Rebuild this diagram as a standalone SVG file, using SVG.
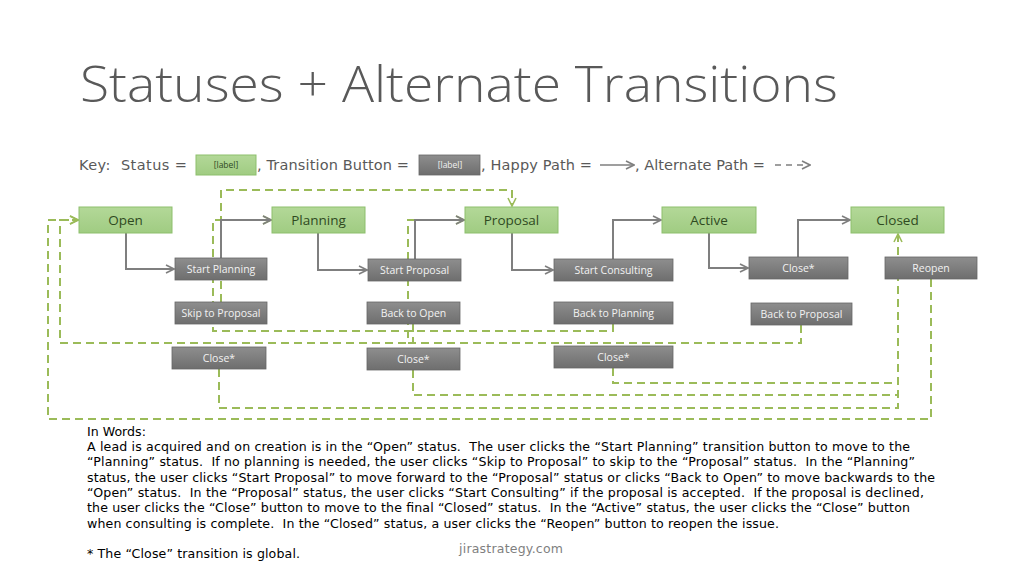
<svg xmlns="http://www.w3.org/2000/svg" width="1024" height="576" viewBox="0 0 1024 576" xml:space="preserve">
<defs>
<linearGradient id="gGreen" x1="0" y1="0" x2="0" y2="1"><stop offset="0" stop-color="#B3D898"/><stop offset="1" stop-color="#A0CC82"/></linearGradient>
<linearGradient id="gGray" x1="0" y1="0" x2="0" y2="1"><stop offset="0" stop-color="#8E8E8E"/><stop offset="1" stop-color="#6E6E6E"/></linearGradient>
<marker id="ag" viewBox="0 0 10 10" refX="9" refY="5" markerWidth="10" markerHeight="10" markerUnits="userSpaceOnUse" orient="auto"><path d="M1,1 L9,5 L1,9" fill="none" stroke="#7F7F7F" stroke-width="1.6"/></marker>
<marker id="ad" viewBox="0 0 10 10" refX="9" refY="5" markerWidth="10" markerHeight="10" markerUnits="userSpaceOnUse" orient="auto"><path d="M1,1 L9,5 L1,9" fill="none" stroke="#9BBB59" stroke-width="1.6"/></marker>
<style>
text{white-space:pre}
.st{fill:url(#gGreen);stroke:#8DBF6C;stroke-width:1}
.bt{fill:url(#gGray);stroke:#666;stroke-width:0.8}
.stt{font-family:"Open Sans","Liberation Sans",sans-serif;font-size:13.5px;fill:#2F4A1F;text-anchor:middle}
.btt{font-family:"Open Sans","Liberation Sans",sans-serif;font-size:10.5px;fill:#F2F2F2;text-anchor:middle}
.happy{fill:none;stroke:#7F7F7F;stroke-width:2;marker-end:url(#ag)}
.alt{fill:none;stroke:#9BBB59;stroke-width:2;stroke-dasharray:8,5}
.altA{marker-end:url(#ad)}
.key{font-family:"DejaVu Sans",Verdana,sans-serif;font-size:14.5px;fill:#595959}
.body{font-family:"DejaVu Sans",Verdana,sans-serif;font-size:12.6px;fill:#000}
</style>
</defs>
<rect width="1024" height="576" fill="#fff"/>
<text x="80" y="102" font-family="Open Sans, Liberation Sans, sans-serif" font-weight="300" font-size="49" fill="#595959" textLength="758" lengthAdjust="spacingAndGlyphs">Statuses + Alternate Transitions</text>

<g id="key">
<text class="key" x="79" y="170" textLength="108">Key:  Status =</text>
<rect x="196" y="155" width="60" height="20" class="st"/>
<text x="226" y="168" font-family="Open Sans, Liberation Sans, sans-serif" font-size="8.5" fill="#2F4A1F" text-anchor="middle">[label]</text>
<text class="key" x="257" y="170" textLength="152">, Transition Button =</text>
<rect x="419" y="155" width="61" height="20" class="bt"/>
<text x="450" y="168" font-family="Open Sans, Liberation Sans, sans-serif" font-size="8.5" fill="#F2F2F2" text-anchor="middle">[label]</text>
<text class="key" x="481" y="170" textLength="111">, Happy Path =</text>
<path d="M600,165 H634" fill="none" stroke="#7F7F7F" stroke-width="1.5" marker-end="url(#ag)"/>
<text class="key" x="635" y="170" textLength="130">, Alternate Path =</text>
<path d="M775,165 H810" fill="none" stroke="#7F7F7F" stroke-width="1.5" stroke-dasharray="6,5" marker-end="url(#ag)"/>
</g>

<g id="connectors">
<path class="alt altA" d="M221,302 V190 H512 V206"/>
<path class="alt altA" d="M613,324 V331 H213 V220 H271"/>
<path class="alt altA" d="M413,324 V343 H60 V220 H78"/>
<path class="alt altA" d="M801,325 V343 H408 V220 H464"/>
<path class="alt altA" d="M219,369 V408 H898 V234"/>
<path class="alt" d="M413,370 V395 H898"/>
<path class="alt" d="M613,368 V383 H898"/>
<path class="alt altA" d="M931,279 V419 H48 V220 H78"/>
<path class="happy" d="M126,233 V269 H174"/>
<path class="happy" d="M221,258 V220 H271"/>
<path class="happy" d="M318,233 V270 H367"/>
<path class="happy" d="M415,259 V220 H464"/>
<path class="happy" d="M512,233 V270 H553"/>
<path class="happy" d="M613,259 V220 H661"/>
<path class="happy" d="M709,233 V268 H748"/>
<path class="happy" d="M798,257 V220 H850"/>
</g>

<g id="open"><rect x="79" y="207" width="93" height="26" class="st"/><text class="stt" x="125.5" y="225">Open</text></g>
<g id="planning"><rect x="272" y="207" width="93" height="26" class="st"/><text class="stt" x="318.5" y="225">Planning</text></g>
<g id="proposal"><rect x="465" y="207" width="93" height="26" class="st"/><text class="stt" x="511.5" y="225">Proposal</text></g>
<g id="active"><rect x="662" y="207" width="94" height="26" class="st"/><text class="stt" x="709" y="225">Active</text></g>
<g id="closed"><rect x="851" y="207" width="93" height="26" class="st"/><text class="stt" x="897.5" y="225">Closed</text></g>

<g id="start-planning"><rect x="175" y="258" width="92" height="22" class="bt"/><text class="btt" x="221" y="273">Start Planning</text></g>
<g id="start-proposal"><rect x="368" y="259" width="93" height="22" class="bt"/><text class="btt" x="414.5" y="274">Start Proposal</text></g>
<g id="start-consulting"><rect x="554" y="259" width="119" height="22" class="bt"/><text class="btt" x="613.5" y="274">Start Consulting</text></g>
<g id="close-active"><rect x="749" y="257" width="99" height="22" class="bt"/><text class="btt" x="798.5" y="272">Close*</text></g>
<g id="reopen"><rect x="885" y="257" width="92" height="22" class="bt"/><text class="btt" x="931" y="272">Reopen</text></g>
<g id="skip-to-proposal"><rect x="175" y="302" width="92" height="22" class="bt"/><text class="btt" x="221" y="317">Skip to Proposal</text></g>
<g id="back-to-open"><rect x="367" y="302" width="93" height="22" class="bt"/><text class="btt" x="413.5" y="317">Back to Open</text></g>
<g id="back-to-planning"><rect x="554" y="302" width="119" height="22" class="bt"/><text class="btt" x="613.5" y="317">Back to Planning</text></g>
<g id="back-to-proposal"><rect x="751" y="303" width="101" height="22" class="bt"/><text class="btt" x="801.5" y="318">Back to Proposal</text></g>
<g id="close-1"><rect x="172" y="347" width="94" height="22" class="bt"/><text class="btt" x="219" y="362">Close*</text></g>
<g id="close-2"><rect x="367" y="348" width="93" height="22" class="bt"/><text class="btt" x="413.5" y="363">Close*</text></g>
<g id="close-3"><rect x="554" y="346" width="119" height="22" class="bt"/><text class="btt" x="613.5" y="361">Close*</text></g>

<g id="words">
<text class="body" x="87" y="436">In Words:</text>
<text class="body" x="87" y="451" textLength="823">A lead is acquired and on creation is in the “Open” status.  The user clicks the “Start Planning” transition button to move to the</text>
<text class="body" x="87" y="466" textLength="828">“Planning” status.  If no planning is needed, the user clicks “Skip to Proposal” to skip to the “Proposal” status.  In the “Planning”</text>
<text class="body" x="87" y="482" textLength="848">status, the user clicks “Start Proposal” to move forward to the “Proposal” status or clicks “Back to Open” to move backwards to the</text>
<text class="body" x="87" y="497" textLength="837">“Open” status.  In the “Proposal” status, the user clicks “Start Consulting” if the proposal is accepted.  If the proposal is declined,</text>
<text class="body" x="87" y="512" textLength="823">the user clicks the “Close” button to move to the final “Closed” status.  In the “Active” status, the user clicks the “Close” button</text>
<text class="body" x="87" y="528" textLength="692">when consulting is complete.  In the “Closed” status, a user clicks the “Reopen” button to reopen the issue.</text>
<text class="body" x="87" y="558" textLength="213">* The “Close” transition is global.</text>
<text x="459" y="553" font-family="DejaVu Sans, Verdana, sans-serif" font-size="12.5" fill="#7F7F7F" textLength="104">jirastrategy.com</text>
</g>
</svg>
